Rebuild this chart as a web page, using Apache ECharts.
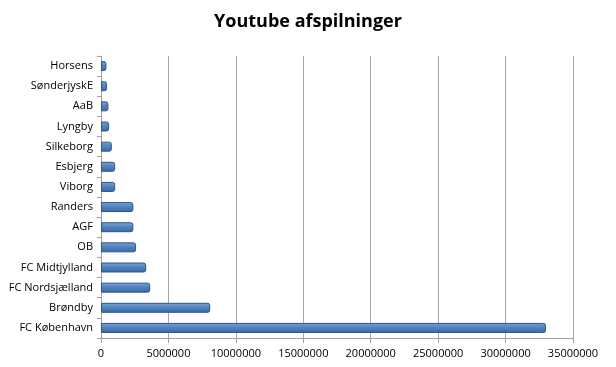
<!DOCTYPE html>
<html><head><meta charset="utf-8">
<script src="https://cdn.jsdelivr.net/npm/echarts@6/dist/echarts.min.js"></script>
<style>html,body{margin:0;padding:0;background:#fff}#c{width:616px;height:367px}</style>
</head><body><div id="c"></div>
<script>
const categories = ["FC København","Brøndby","FC Nordsjælland","FC Midtjylland","OB","AGF","Randers","Viborg","Esbjerg","Silkeborg","Lyngby","AaB","SønderjyskE","Horsens"];
const values = [33000000,8100000,3650000,3350000,2600000,2400000,2400000,1050000,1050000,800000,600000,550000,450000,400000];
const xTicks = [0,5000000,10000000,15000000,20000000,25000000,30000000,35000000];
const chart = echarts.init(document.getElementById('c'));
chart.setOption({
  animation:false,
  title:{text:'Youtube afspilninger',left:'center',top:8,textStyle:{fontFamily:'Open Sans',fontWeight:'bold',fontSize:18,color:'#000'}},
  grid:{left:101,right:43,top:56,bottom:29},
  xAxis:{type:'value',min:xTicks[0],max:xTicks[xTicks.length-1],interval:xTicks[1]-xTicks[0],
    axisLine:{show:true,lineStyle:{color:'#a0a0a0'}},
    axisTick:{show:true,lineStyle:{color:'#a0a0a0'}},
    splitLine:{show:true,lineStyle:{color:'#a6a6a6',width:1}},
    axisLabel:{fontFamily:'Open Sans',fontSize:11,color:'#000',margin:10,formatter:v=>String(v)}},
  yAxis:{type:'category',data:categories,
    axisLine:{show:true,lineStyle:{color:'#a0a0a0'}},
    axisTick:{show:true,length:4,lineStyle:{color:'#a0a0a0'}},
    axisLabel:{fontFamily:'Open Sans',fontSize:11,color:'#000',margin:8}},
  series:[{type:'bar',data:values,barWidth:10,
    itemStyle:{color:new echarts.graphic.LinearGradient(0,0,0,1,[{offset:0,color:'#7aa3db'},{offset:0.5,color:'#4f81bd'},{offset:1,color:'#3b67a0'}]),
      borderColor:'#2f5487',borderWidth:1,borderRadius:[0,2,2,0]}}]
});
</script></body></html>
